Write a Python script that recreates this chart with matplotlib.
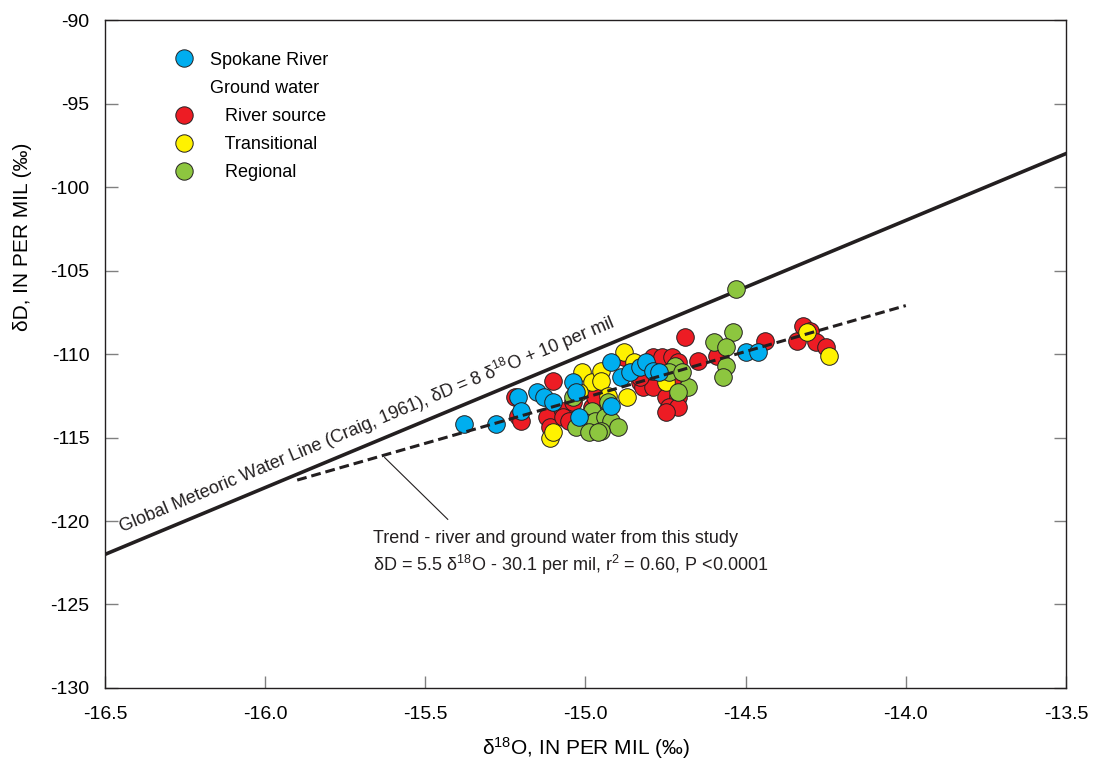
import numpy as np
import matplotlib
matplotlib.use("Agg")
import matplotlib.pyplot as plt
from matplotlib.lines import Line2D

plt.rcParams['font.family'] = ['Liberation Sans', 'DejaVu Sans']
plt.rcParams['mathtext.fontset'] = 'custom'
plt.rcParams['mathtext.rm'] = 'Liberation Sans'
plt.rcParams['mathtext.it'] = 'Liberation Sans:italic'
plt.rcParams['axes.unicode_minus'] = False

# Spokane River
river_x = [-15.38, -15.28, -15.21, -15.20, -15.15, -15.13, -15.10, -15.04, -15.03, -15.02,
           -14.92, -14.92, -14.89, -14.86, -14.83, -14.81, -14.79, -14.77, -14.50, -14.46]
river_y = [-114.2, -114.2, -112.6, -113.4, -112.3, -112.6, -112.9, -111.7, -112.3, -113.8,
           -110.5, -113.1, -111.4, -111.1, -110.8, -110.5, -111.0, -111.1, -109.9, -109.9]

# Ground water - river source
rs_x = [-14.69, -15.10, -15.22, -15.21, -15.20, -15.12, -15.11, -15.07, -15.07, -15.05,
        -14.98, -14.97, -15.04, -14.88, -14.83, -14.82, -14.79, -14.76, -14.73, -14.71,
        -14.79, -14.79, -14.75, -14.73, -14.71, -14.74, -14.71, -14.75, -14.65, -14.59,
        -14.44, -14.34, -14.32, -14.30, -14.28, -14.25, -14.83]
rs_y = [-109.0, -111.6, -112.6, -113.7, -114.0, -113.8, -114.4, -113.4, -113.8, -114.0,
        -113.2, -112.6, -112.9, -110.2, -111.7, -112.0, -110.2, -110.2, -110.2, -110.5,
        -111.4, -112.0, -112.6, -111.6, -112.6, -113.2, -113.2, -113.5, -110.4, -110.1,
        -109.2, -109.2, -108.3, -108.6, -109.3, -109.6, -111.4]

# Ground water - transitional
tr_x = [-14.88, -14.85, -15.01, -14.98, -14.95, -14.95, -14.93, -14.87, -14.75, -15.11,
        -15.10, -15.02, -14.31, -14.24]
tr_y = [-109.9, -110.5, -111.1, -111.7, -111.0, -111.6, -112.5, -112.6, -111.7, -115.0,
        -114.7, -112.3, -108.7, -110.1]

# Ground water - regional
rg_x = [-14.53, -14.54, -14.60, -14.56, -14.56, -14.57, -14.68, -14.71, -14.72, -14.74,
        -14.70, -14.93, -14.98, -15.00, -14.97, -14.94, -14.92, -14.90, -14.95, -15.03,
        -14.99, -14.96, -15.04]
rg_y = [-106.1, -108.7, -109.3, -109.6, -110.7, -111.4, -112.0, -112.3, -110.7, -111.1,
        -111.1, -112.9, -113.4, -114.1, -114.0, -113.8, -114.0, -114.4, -114.6, -114.4,
        -114.7, -114.7, -112.6]

x_ticks = [-16.5, -16.0, -15.5, -15.0, -14.5, -14.0, -13.5]
y_ticks = [-130, -125, -120, -115, -110, -105, -100, -95, -90]

fig = plt.figure(figsize=(10.96, 7.7), dpi=100)
ax = fig.add_axes([0.0958, 0.1065, 0.8768, 0.8675])

# global meteoric water line and study trend
gx = np.array([-16.5, -13.5])
ax.plot(gx, 8 * gx + 10, color='#231f20', lw=2.6, zorder=2)
tx = np.array([-15.9, -14.0])
ax.plot(tx, 5.5 * tx - 30.1, color='#231f20', lw=2.2, ls=(0, (3.2, 1.6)), zorder=6)

ms = 160
ec = '#231f20'
ax.scatter(rs_x, rs_y, s=ms, c='#ed1c24', edgecolors=ec, linewidths=0.7, zorder=3)
ax.scatter(tr_x, tr_y, s=ms, c='#fff200', edgecolors=ec, linewidths=0.7, zorder=3)
ax.scatter(rg_x, rg_y, s=ms, c='#8dc63f', edgecolors=ec, linewidths=0.7, zorder=4)
ax.scatter(river_x, river_y, s=ms, c='#00aeef', edgecolors=ec, linewidths=0.7, zorder=5)

ax.set_xlim(-16.5, -13.5)
ax.set_ylim(-130, -90)
ax.set_xticks(x_ticks)
ax.set_xticklabels([f'{v:.1f}' for v in x_ticks])
ax.set_yticks(y_ticks)
ax.tick_params(direction='in', length=9, width=1, color='#808080', labelsize=14, right=True)
ax.tick_params(axis='x', pad=13)
ax.tick_params(axis='y', pad=11)
for sp in ax.spines.values():
    sp.set_color('#231f20')
    sp.set_linewidth(1.0)

ax.set_xlabel('δ$^{18}$O, IN PER MIL (‰)', fontsize=15, labelpad=9)
ax.set_ylabel('δD, IN PER MIL (‰)', fontsize=15)
ax.yaxis.set_label_coords(-0.076, 0.675)

# line labels
x0 = -16.44
ax.text(x0, 8 * x0 + 10 + 0.45,
        'Global Meteoric Water Line (Craig, 1961), δD = 8 δ$^{18}$O + 10 per mil',
        rotation=np.degrees(np.arctan2(8, 1)), transform_rotates_text=True,
        rotation_mode='anchor', ha='left', va='bottom', fontsize=13, color='#231f20')
ax.plot([-15.627, -15.43], [-116.2, -119.9], color='#231f20', lw=0.8, zorder=2)
ax.text(-15.664, -120.55,
        'Trend - river and ground water from this study\n'
        'δD = 5.5 δ$^{18}$O - 30.1 per mil, r$^{2}$ = 0.60, P <0.0001',
        ha='left', va='top', fontsize=13, linespacing=1.3, color='#231f20')

def dot(col):
    return Line2D([], [], ls='none', marker='o', markersize=12.5, markerfacecolor=col,
                  markeredgecolor=ec, markeredgewidth=0.7)

handles = [dot('#00aeef'), Line2D([], [], ls='none'), dot('#ed1c24'), dot('#fff200'), dot('#8dc63f')]
labels = ['Spokane River', 'Ground water', '   River source', '   Transitional', '   Regional']
ax.legend(handles, labels, loc='upper left', bbox_to_anchor=(0.05, 0.977), frameon=False,
          fontsize=13, handletextpad=0.65, handlelength=1.6, labelspacing=0.62)

fig.savefig('out.png', dpi=100)
